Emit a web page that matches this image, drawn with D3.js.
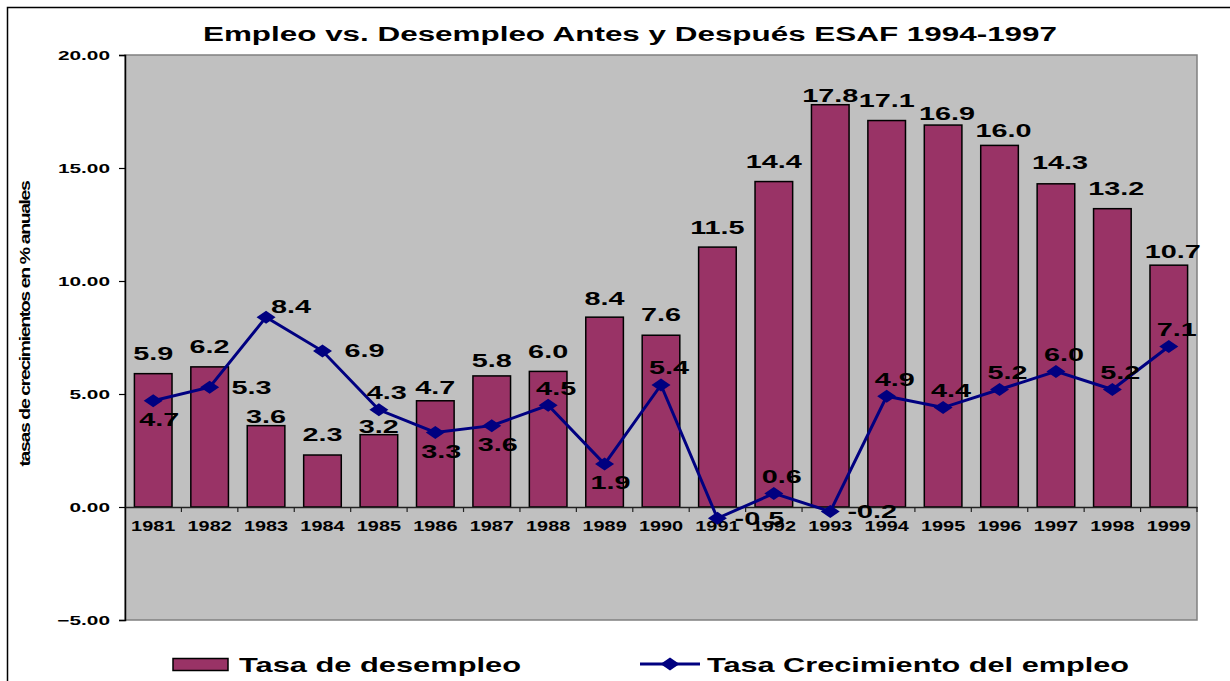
<!DOCTYPE html>
<html>
<head>
<meta charset="utf-8">
<script src="https://cdn.jsdelivr.net/npm/d3@7.9.0/dist/d3.min.js"></script>
<style>
  body { margin: 0; background: #fff; }
  svg { display: block; }
  text { font-family: "Liberation Sans", Arial, sans-serif; font-weight: bold; fill: #000; }
</style>
</head>
<body>
<svg id="chart" width="1230" height="681"></svg>
<script>
// data
const years = ['1981','1982','1983','1984','1985','1986','1987','1988','1989','1990',
               '1991','1992','1993','1994','1995','1996','1997','1998','1999'];
const desempleo = [5.9, 6.2, 3.6, 2.3, 3.2, 4.7, 5.8, 6.0, 8.4, 7.6,
                   11.5, 14.4, 17.8, 17.1, 16.9, 16.0, 14.3, 13.2, 10.7];
const empleo = [4.7, 5.3, 8.4, 6.9, 4.3, 3.3, 3.6, 4.5, 1.9, 5.4,
                -0.5, 0.6, -0.2, 4.9, 4.4, 5.2, 6.0, 5.2, 7.1];
const yTicks = [-5, 0, 5, 10, 15, 20];
const seriesNames = ['Tasa de desempleo', 'Tasa Crecimiento del empleo'];

// label layout (not data): gap between bar top and its label, line label placement
const barLabelGap = [14, 14, 3, 14, 2, 7, 9, 13, 12, 14, 13, 14, 3, 14, 5, 8, 15, 14, 7];
const lineLabelAt = ['below','right','upright','right','above','below','below','above','below','above',
                     'right','above','right','above','above','above','above','above','above'];
const labelOffset = {
  below:   [6, 19],
  above:   [8, -17],
  right:   [42, 0],
  upright: [25, -10]
};

const barColor = '#993366';
const lineColor = '#000080';

const svg = d3.select('#chart');

// fit text to a stretched width (the original is horizontally wide)
function stretch(sel, sx) {
  sel.each(function () {
    const len = this.getComputedTextLength();
    d3.select(this).attr('textLength', len * sx).attr('lengthAdjust', 'spacingAndGlyphs');
  });
}

// outer frame
svg.append('rect')
  .attr('x', 7.5).attr('y', 7.5)
  .attr('width', 1300).attr('height', 800)
  .attr('fill', 'none').attr('stroke', '#000').attr('stroke-width', 1.5);

const plot = { left: 125, right: 1197, top: 55, bottom: 620 };

const x = d3.scaleBand().domain(years).range([plot.left, plot.right]).paddingInner(1 / 3).paddingOuter(1 / 6);
const xc = d3.scaleBand().domain(years).range([plot.left, plot.right]);
const y = d3.scaleLinear().domain([-5, 20]).range([plot.bottom, plot.top]);

// title
svg.append('text')
  .attr('x', 630).attr('y', 41)
  .attr('text-anchor', 'middle')
  .style('font-size', '20px')
  .attr('textLength', 854).attr('lengthAdjust', 'spacingAndGlyphs')
  .text('Empleo vs. Desempleo Antes y Después ESAF 1994-1997');

// plot background
svg.append('rect')
  .attr('x', plot.left).attr('y', plot.top)
  .attr('width', plot.right - plot.left).attr('height', plot.bottom - plot.top)
  .attr('fill', '#c0c0c0').attr('stroke', '#808080').attr('stroke-width', 1.5);

// y axis
const yAxis = svg.append('g')
  .attr('transform', `translate(${plot.left},0)`)
  .call(d3.axisLeft(y).tickValues(yTicks).tickFormat(d3.format('.2f')).tickSize(6).tickPadding(9));
yAxis.select('.domain').attr('stroke', '#000').attr('stroke-width', 1.5);
yAxis.selectAll('.tick line').attr('stroke', '#000').attr('stroke-width', 1.2);
yAxis.selectAll('.tick text')
  .style('font-size', '13px').style('font-family', '"Liberation Sans", Arial, sans-serif')
  .attr('fill', '#000').attr('dy', '0.35em')
  .call(stretch, 1.6);

// bars
svg.append('g').selectAll('rect')
  .data(desempleo)
  .join('rect')
  .attr('x', (d, i) => x(years[i]))
  .attr('width', x.bandwidth())
  .attr('y', d => y(d))
  .attr('height', d => y(0) - y(d))
  .attr('fill', barColor)
  .attr('stroke', '#000').attr('stroke-width', 1.5);

// x axis at zero
const xAxis = svg.append('g')
  .attr('transform', `translate(0,${y(0)})`)
  .call(d3.axisBottom(xc).tickSize(0).tickPadding(14));
xAxis.select('.domain').attr('stroke', '#222').attr('stroke-width', 1.5);
xAxis.selectAll('.tick text')
  .style('font-size', '14px').style('font-family', '"Liberation Sans", Arial, sans-serif')
  .attr('fill', '#000')
  .call(stretch, 1.42);
xAxis.selectAll('.boundary')
  .data(years)
  .join('line')
  .attr('x1', (d, i) => plot.left + xc.step() * (i + 1))
  .attr('x2', (d, i) => plot.left + xc.step() * (i + 1))
  .attr('y1', 0).attr('y2', 5)
  .attr('stroke', '#222').attr('stroke-width', 1.2);

// bar labels
svg.append('g').selectAll('text')
  .data(desempleo)
  .join('text')
  .attr('x', (d, i) => xc(years[i]) + xc.bandwidth() / 2 + (i > 13 ? 4 : 0))
  .attr('y', (d, i) => y(d) - barLabelGap[i])
  .attr('text-anchor', 'middle')
  .style('font-size', '18px')
  .text(d => d.toFixed(1))
  .call(stretch, 1.6);

// employment line
const line = d3.line()
  .x((d, i) => xc(years[i]) + xc.bandwidth() / 2)
  .y(d => y(d));

svg.append('path')
  .datum(empleo)
  .attr('d', line)
  .attr('fill', 'none')
  .attr('stroke', lineColor)
  .attr('stroke-width', 3);

const diamond = 'M0,-6.5L9.5,0L0,6.5L-9.5,0Z';

svg.append('g').selectAll('path')
  .data(empleo)
  .join('path')
  .attr('d', diamond)
  .attr('transform', (d, i) => `translate(${xc(years[i]) + xc.bandwidth() / 2},${y(d)})`)
  .attr('fill', lineColor);

// line labels
svg.append('g').selectAll('text')
  .data(empleo)
  .join('text')
  .attr('x', (d, i) => xc(years[i]) + xc.bandwidth() / 2 + labelOffset[lineLabelAt[i]][0])
  .attr('y', (d, i) => y(d) + labelOffset[lineLabelAt[i]][1])
  .attr('dy', '0.35em')
  .attr('text-anchor', 'middle')
  .style('font-size', '18px')
  .text(d => d.toFixed(1))
  .call(stretch, 1.6);

// y axis title
svg.append('text')
  .attr('transform', 'translate(30,324) rotate(-90)')
  .attr('text-anchor', 'middle')
  .style('font-size', '14px')
  .style('letter-spacing', '-1px')
  .attr('textLength', 285).attr('lengthAdjust', 'spacingAndGlyphs')
  .text('tasas de crecimientos en % anuales');

// legend
const legend = svg.append('g');
legend.append('rect')
  .attr('x', 173).attr('y', 658.5)
  .attr('width', 55).attr('height', 12)
  .attr('fill', barColor).attr('stroke', '#000').attr('stroke-width', 1.5);
legend.append('text')
  .attr('x', 239).attr('y', 672)
  .style('font-size', '21px')
  .attr('textLength', 282).attr('lengthAdjust', 'spacingAndGlyphs')
  .text(seriesNames[0]);

legend.append('line')
  .attr('x1', 640).attr('x2', 700)
  .attr('y1', 664).attr('y2', 664)
  .attr('stroke', lineColor).attr('stroke-width', 3);
legend.append('path')
  .attr('d', diamond)
  .attr('transform', 'translate(670,664)')
  .attr('fill', lineColor);
legend.append('text')
  .attr('x', 707).attr('y', 672)
  .style('font-size', '21px')
  .attr('textLength', 422).attr('lengthAdjust', 'spacingAndGlyphs')
  .text(seriesNames[1]);
</script>
</body>
</html>
